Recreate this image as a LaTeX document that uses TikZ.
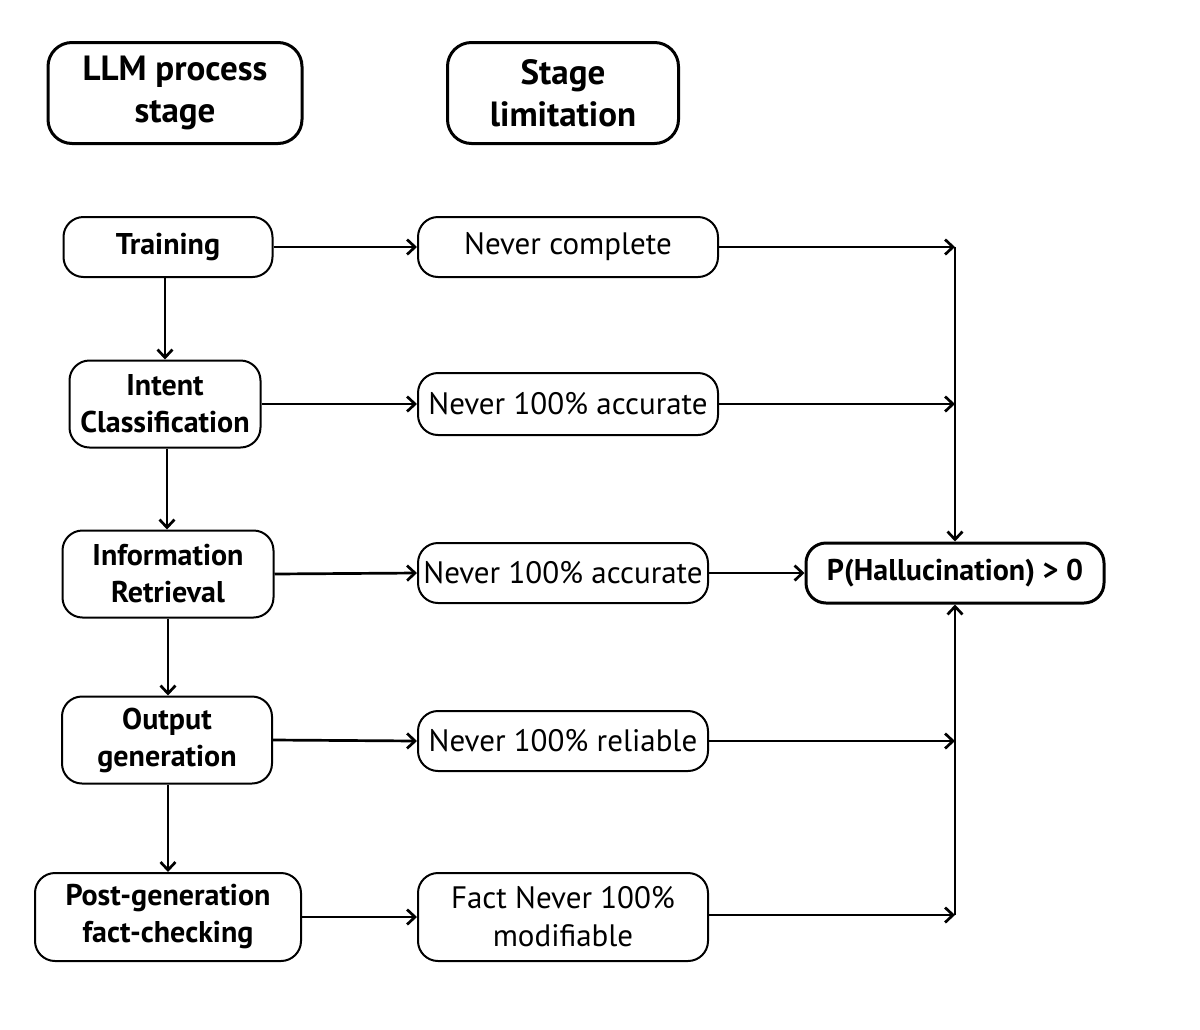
\documentclass[tikz,border=0pt]{standalone}
\usepackage{fontspec}
\setmainfont{PT Sans}
\usetikzlibrary{arrows.meta}
\begin{document}
\begin{tikzpicture}[x=1pt,y=-1pt,
  box/.style={draw, line width=2pt, rounded corners=20pt, align=center, inner sep=0pt},
  head/.style={box, line width=3pt, rounded corners=24pt, font=\fontsize{35}{42}\selectfont\bfseries},
  stagebox/.style={box, font=\fontsize{30}{37}\selectfont\bfseries},
  limbox/.style={box, font=\fontsize{31}{38}\selectfont},
  resbox/.style={box, line width=3pt, font=\fontsize{30}{34}\selectfont\bfseries},
  conn/.style={line width=2.7pt, -{Straight Barb[length=8pt,width=15pt,line width=2.7pt]}},
  plain/.style={line width=2.7pt}]
\path[use as bounding box, fill=white] (0,0) rectangle (1200,1029);

\node[head, minimum width=254pt, minimum height=101pt] (h1) at (175,93) {LLM process\\stage};
\node[head, minimum width=231pt, minimum height=101pt] (h2) at (563,93) {Stage\\limitation};

\node[stagebox, minimum width=209pt, minimum height=60pt] (tr) at (168,247) {Training};
\node[stagebox, minimum width=191pt, minimum height=87pt] (ic) at (165,404) {Intent\\Classification};
\node[stagebox, minimum width=211pt, minimum height=87pt] (ir) at (168,574) {Information\\Retrieval};
\node[stagebox, minimum width=210pt, minimum height=87pt] (og) at (167,740) {Output\\generation};
\node[stagebox, minimum width=266pt, minimum height=88pt] (pg) at (168,917) {Post-generation\\fact-checking};

\node[limbox, minimum width=300pt, minimum height=60pt] (l1) at (568,247) {Never complete};
\node[limbox, minimum width=300pt, minimum height=62pt] (l2) at (568,404) {Never 100\% accurate};
\node[limbox, minimum width=290pt, minimum height=60pt] (l3) at (563,573) {Never 100\% accurate};
\node[limbox, minimum width=290pt, minimum height=60pt] (l4) at (563,741) {Never 100\% reliable};
\node[limbox, minimum width=290pt, minimum height=88pt] (l5) at (563,917) {Fact Never 100\%\\modifiable};

\node[resbox, minimum width=298pt, minimum height=60pt] (p) at (955,573) {P(Hallucination) > 0};

\coordinate (j1) at (955,247);
\coordinate (j2) at (955,404);
\coordinate (j4) at (955,741);
\coordinate (j5) at (955,915);

\draw[conn] (tr.south -| 165,0) -- (ic.north -| 165,0);
\draw[conn] (ic.south -| 167,0) -- (ir.north -| 167,0);
\draw[conn] (ir.south -| 168,0) -- (og.north -| 168,0);
\draw[conn] (og.south -| 168,0) -- (pg.north -| 168,0);

\draw[conn] (tr.east) -- (l1.west);
\draw[conn] (ic.east) -- (l2.west);
\draw[conn] (ir.east) -- (l3.west);
\draw[conn] (og.east) -- (l4.west);
\draw[conn] (pg.east) -- (l5.west);

\draw[conn] (l1.east) -- (j1);
\draw[conn] (l2.east) -- (j2);
\draw[conn] (l3.east) -- (p.west);
\draw[conn] (l4.east) -- (j4);
\draw[conn] (l5.east |- j5) -- (j5);

\draw[conn] (j1) -- (p.north);
\draw[conn] (j5) -- (p.south);
\end{tikzpicture}
\end{document}
